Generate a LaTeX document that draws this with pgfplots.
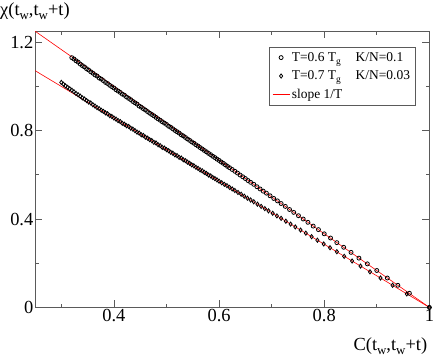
\documentclass[border=0pt]{standalone}
\usepackage{fontspec}
\setmainfont{Liberation Serif}
\usepackage{graphicx}
\usepackage{pgfplots}
\pgfplotsset{compat=1.18}
\newcommand{\sub}[1]{\raisebox{-0.45ex}{\scalebox{0.7}{#1}}}
\definecolor{frame}{RGB}{90,90,90}
\begin{document}
\begin{tikzpicture}
\begin{axis}[
    name=ax,
    scale only axis,
    width=394bp, height=276bp,
    xmin=0.25, xmax=1, ymin=0, ymax=1.25,
    xtick={0.4,0.6,0.8,1}, minor xtick={0.3,0.5,0.7,0.9},
    ytick={0,0.4,0.8,1.2}, minor ytick={0.2,0.6,1.0},
    tick align=inside,
    major tick length=7bp, minor tick length=3.5bp,
    axis line style={frame, line width=0.8bp},
    every tick/.style={frame, line width=0.8bp},
    /pgf/number format/assume math mode=true,
    every tick label/.append style={font=\fontsize{18.5}{20}\selectfont},
    yticklabel style={inner sep=1.5bp},
    xticklabel style={inner sep=2bp},
    xlabel={C(t\sub{w},t\sub{w}+t)},
    xlabel style={at={(rel axis cs:1,0)}, anchor=north east, inner sep=0pt,
        yshift=-30bp, xshift=-2bp, font=\fontsize{18.5}{20}\selectfont},
    legend style={at={(0.964,0.942)}, anchor=north east, draw=frame,
        font=\fontsize{13.5}{15}\selectfont, row sep=4bp,
        inner xsep=3bp, inner ysep=3bp},
    legend cell align=left,
]
% T = 0.6 Tg, K/N = 0.1
\addplot[only marks, mark=o, mark size=2bp, black, mark options={line width=0.8bp}] coordinates {
(0.320,1.130) (0.324,1.124) (0.328,1.116) (0.332,1.110) (0.336,1.101)
(0.340,1.094) (0.344,1.088) (0.348,1.080) (0.352,1.074) (0.356,1.066)
(0.360,1.060) (0.364,1.052) (0.368,1.047) (0.372,1.038) (0.376,1.033)
(0.380,1.026) (0.384,1.018) (0.388,1.013) (0.392,1.005) (0.396,0.999)
(0.400,0.993) (0.404,0.985) (0.408,0.979) (0.412,0.973) (0.416,0.965)
(0.420,0.960) (0.424,0.952) (0.428,0.946) (0.432,0.940) (0.436,0.932)
(0.440,0.926) (0.444,0.920) (0.448,0.911) (0.452,0.906) (0.456,0.899)
(0.460,0.893) (0.464,0.886) (0.468,0.879) (0.472,0.873) (0.476,0.867)
(0.480,0.860) (0.484,0.853) (0.488,0.847) (0.492,0.840) (0.496,0.834)
(0.500,0.828) (0.504,0.820) (0.508,0.815) (0.512,0.808) (0.516,0.801)
(0.520,0.795) (0.524,0.789) (0.528,0.781) (0.532,0.776) (0.536,0.769)
(0.540,0.762) (0.544,0.756) (0.548,0.749) (0.552,0.743) (0.556,0.736)
(0.560,0.730) (0.564,0.723) (0.568,0.717) (0.572,0.710) (0.576,0.704)
(0.580,0.697) (0.584,0.691) (0.588,0.684) (0.592,0.678) (0.596,0.671)
(0.600,0.665) (0.604,0.658) (0.608,0.652) (0.612,0.645) (0.616,0.638)
(0.620,0.632) (0.625,0.624) (0.630,0.616) (0.635,0.608) (0.640,0.599)
(0.645,0.591) (0.650,0.583) (0.655,0.574) (0.660,0.566) (0.666,0.557)
(0.672,0.546) (0.678,0.536) (0.684,0.526) (0.690,0.517) (0.697,0.505)
(0.704,0.493) (0.711,0.482) (0.718,0.470) (0.726,0.457) (0.734,0.443)
(0.742,0.430) (0.751,0.415) (0.760,0.400) (0.769,0.385) (0.779,0.368)
(0.789,0.352) (0.800,0.333) (0.812,0.314) (0.824,0.293) (0.837,0.272)
(0.851,0.249) (0.866,0.223) (0.882,0.197) (0.900,0.167) (0.920,0.133)
(0.940,0.100) (0.962,0.064) (1.000,0.000)
};
\addlegendentry{T=0.6 T\sub{g}\hspace{1.1em}K/N=0.1}
% T = 0.7 Tg, K/N = 0.03
\addplot[only marks, mark=diamond, mark size=2.1bp, black, mark options={line width=0.8bp}] coordinates {
(0.300,1.018) (0.304,1.010) (0.308,1.002) (0.312,0.996) (0.316,0.989)
(0.320,0.983) (0.324,0.976) (0.328,0.968) (0.332,0.962) (0.336,0.956)
(0.340,0.948) (0.344,0.943) (0.348,0.936) (0.352,0.929) (0.356,0.925)
(0.360,0.917) (0.364,0.911) (0.368,0.904) (0.372,0.899) (0.376,0.892)
(0.380,0.887) (0.384,0.880) (0.388,0.876) (0.392,0.868) (0.396,0.864)
(0.400,0.857) (0.404,0.852) (0.408,0.845) (0.412,0.841) (0.416,0.833)
(0.420,0.829) (0.424,0.822) (0.428,0.819) (0.432,0.811) (0.436,0.807)
(0.440,0.800) (0.444,0.793) (0.448,0.789) (0.452,0.781) (0.456,0.778)
(0.460,0.770) (0.464,0.766) (0.468,0.759) (0.472,0.755) (0.476,0.747)
(0.480,0.744) (0.484,0.736) (0.488,0.732) (0.492,0.724) (0.496,0.721)
(0.500,0.714) (0.504,0.709) (0.508,0.702) (0.512,0.698) (0.516,0.690)
(0.520,0.687) (0.524,0.679) (0.528,0.676) (0.532,0.668) (0.536,0.664)
(0.540,0.657) (0.544,0.652) (0.548,0.645) (0.552,0.641) (0.556,0.634)
(0.560,0.629) (0.564,0.622) (0.568,0.618) (0.572,0.611) (0.576,0.606)
(0.580,0.599) (0.584,0.595) (0.588,0.588) (0.592,0.583) (0.596,0.577)
(0.600,0.571) (0.605,0.564) (0.610,0.557) (0.615,0.551) (0.620,0.543)
(0.625,0.536) (0.630,0.529) (0.636,0.520) (0.642,0.512) (0.648,0.503)
(0.654,0.494) (0.660,0.486) (0.666,0.478) (0.673,0.467) (0.680,0.457)
(0.687,0.447) (0.694,0.437) (0.702,0.426) (0.710,0.414) (0.718,0.403)
(0.727,0.390) (0.736,0.377) (0.745,0.364) (0.755,0.350) (0.765,0.336)
(0.776,0.320) (0.787,0.304) (0.799,0.287) (0.811,0.270) (0.824,0.252)
(0.838,0.231) (0.853,0.210) (0.869,0.187) (0.887,0.161) (0.907,0.133)
(0.930,0.100) (0.957,0.061) (1.000,0.000)
};
\addlegendentry{T=0.7 T\sub{g}\hspace{1.1em}K/N=0.03}
% slope 1/T lines
\addplot[red, line width=0.6bp] coordinates {(0.25,1.25) (1,0)};
\addlegendentry{slope 1/T}
\addplot[red, line width=0.6bp, forget plot] coordinates {(0.25,1.0714) (1,0)};
\end{axis}
\node[anchor=south west, inner sep=0pt, xshift=-35bp, yshift=11bp,
    font=\fontsize{18.5}{20}\selectfont] (yl) at (ax.north west) {χ(t\sub{w},t\sub{w}+t)};
\path (yl.north west) ++(0,3bp) (ax.south) ++(0,-53bp);
\end{tikzpicture}
\end{document}
